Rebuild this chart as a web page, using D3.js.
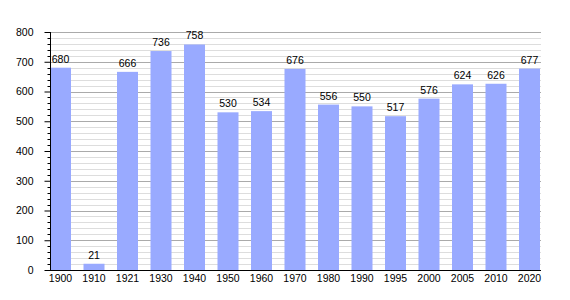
<!DOCTYPE html>
<html>
<head>
<meta charset="utf-8">
<script src="https://cdn.jsdelivr.net/npm/d3@7"></script>
<style>
  body { margin: 0; background: #fff; }
  text { font-family: 'Liberation Sans', Arial, sans-serif; font-size: 10.5px; fill: #000; }
</style>
</head>
<body>
<svg id="chart"></svg>
<script>
// Population by census year
const years = ['1900', '1910', '1921', '1930', '1940', '1950', '1960', '1970',
  '1980', '1990', '1995', '2000', '2005', '2010', '2020']
const population = [680, 21, 666, 736, 758, 530, 534, 676, 556, 550, 517, 576, 624, 626, 677]
const yTicks = [0, 100, 200, 300, 400, 500, 600, 700, 800]

const svgWidth = 570
const svgHeight = 300
const margin = { top: 32, right: 29, bottom: 30, left: 50 }
const plotRight = svgWidth - margin.right
const plotBottom = svgHeight - margin.bottom
const fontFamily = "'Liberation Sans', Arial, sans-serif"

const svg = d3.select('#chart')
  .attr('width', svgWidth)
  .attr('height', svgHeight)

const x = d3.scaleBand()
  .domain(years)
  .range([margin.left, plotRight - 1])
  .paddingInner(0.373)
  .paddingOuter(0)
  .align(0)

const y = d3.scaleLinear()
  .domain([0, 800])
  .range([plotBottom, margin.top])

// Minor grid lines every 20
const minor = d3.range(20, 801, 20).filter(v => v % 100 !== 0)
svg.append('g')
  .selectAll('line')
  .data(minor)
  .enter()
  .append('line')
  .attr('x1', margin.left)
  .attr('x2', plotRight)
  .attr('y1', d => Math.round(y(d)) + 0.5)
  .attr('y2', d => Math.round(y(d)) + 0.5)
  .attr('stroke', '#dddddd')

// Major grid lines
svg.append('g')
  .selectAll('line')
  .data(yTicks.filter(v => v > 0))
  .enter()
  .append('line')
  .attr('x1', margin.left)
  .attr('x2', plotRight)
  .attr('y1', d => Math.round(y(d)) + 0.5)
  .attr('y2', d => Math.round(y(d)) + 0.5)
  .attr('stroke', '#aaaaaa')

// Bars
svg.append('g')
  .selectAll('rect')
  .data(population)
  .enter()
  .append('rect')
  .attr('x', (d, i) => x(years[i]))
  .attr('y', d => y(d))
  .attr('width', x.bandwidth())
  .attr('height', d => plotBottom - y(d))
  .attr('fill', '#99aaff')

// Value labels
svg.append('g')
  .selectAll('text')
  .data(population)
  .enter()
  .append('text')
  .attr('x', (d, i) => x(years[i]) + x.bandwidth() / 2)
  .attr('y', d => y(d) - 5)
  .attr('text-anchor', 'middle')
  .text(d => d)

// Y axis with minor ticks
const yAxis = d3.axisLeft(y).tickValues(yTicks).tickSize(6).tickPadding(11)
const yAxisG = svg.append('g')
  .attr('transform', `translate(${margin.left + 0.5},0)`)
  .call(yAxis)
yAxisG.select('.domain').remove()
yAxisG.selectAll('.tick line').attr('stroke', '#000')
yAxisG.selectAll('.tick text').style('font-size', '10.5px').style('font-family', fontFamily)
yAxisG.append('g')
  .selectAll('line')
  .data(minor)
  .enter()
  .append('line')
  .attr('x1', -3)
  .attr('x2', 0)
  .attr('y1', d => Math.round(y(d)) + 0.5)
  .attr('y2', d => Math.round(y(d)) + 0.5)
  .attr('stroke', '#000')

svg.append('line')
  .attr('x1', margin.left + 0.5)
  .attr('x2', margin.left + 0.5)
  .attr('y1', margin.top)
  .attr('y2', plotBottom)
  .attr('stroke', '#000')

// X axis
const xAxis = d3.axisBottom(x).tickSize(0).tickPadding(4.5)
const xAxisG = svg.append('g')
  .attr('transform', `translate(0,${plotBottom})`)
  .call(xAxis)
xAxisG.select('.domain').remove()
xAxisG.selectAll('.tick text').style('font-size', '10.5px').style('font-family', fontFamily)

svg.append('line')
  .attr('x1', margin.left)
  .attr('x2', plotRight)
  .attr('y1', plotBottom + 0.5)
  .attr('y2', plotBottom + 0.5)
  .attr('stroke', '#000')
</script>
</body>
</html>
